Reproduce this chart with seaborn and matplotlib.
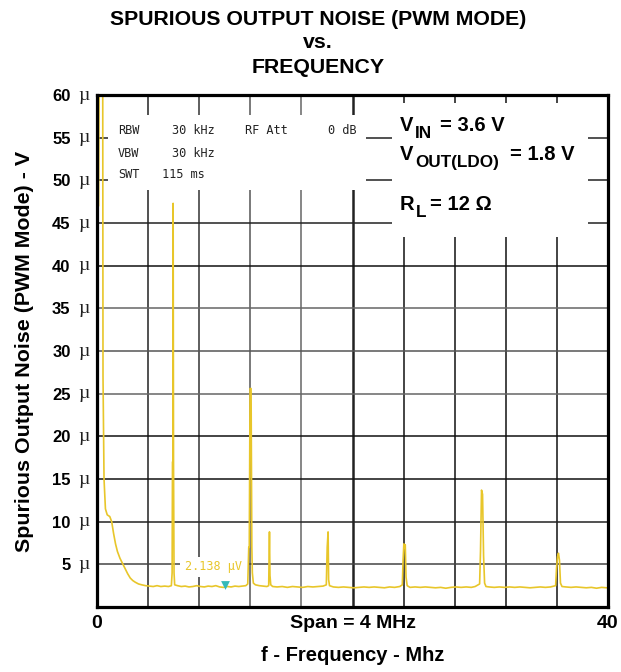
import matplotlib
matplotlib.use("Agg")
import matplotlib.pyplot as plt
import seaborn as sns
import pandas as pd
from matplotlib.patches import Rectangle

# ---------------- data ----------------
freq_mhz = [0.12, 0.20, 0.44, 0.47, 0.55, 0.66, 0.80, 1.00, 1.15, 1.30, 1.45, 1.60, 1.80, 2.00,
            2.20, 2.40, 2.60, 2.80, 3.00, 3.25, 3.50, 3.80, 4.10, 4.40, 4.70, 5.00, 5.30, 5.60,
            5.82, 5.88, 5.91, 5.94, 5.96, 5.99, 6.03, 6.08, 6.30, 6.60, 6.90, 7.20, 7.50, 7.80,
            8.10, 8.40, 8.70, 9.00, 9.30, 9.60, 9.90, 10.20, 10.50, 10.80, 11.10, 11.40, 11.65,
            11.80, 11.88, 11.92, 11.98, 12.06, 12.12, 12.16, 12.24, 12.40, 12.70, 13.00, 13.30,
            13.44, 13.50, 13.54, 13.60, 13.75, 14.10, 14.50, 14.90, 15.30, 15.70, 16.10, 16.50,
            16.90, 17.30, 17.70, 17.95, 18.02, 18.09, 18.13, 18.20, 18.50, 18.90, 19.30, 19.70,
            20.10, 20.50, 20.90, 21.30, 21.70, 22.10, 22.50, 22.90, 23.30, 23.70, 23.90, 23.96,
            24.02, 24.08, 24.13, 24.19, 24.28, 24.50, 24.90, 25.30, 25.70, 26.10, 26.50, 26.90,
            27.30, 27.70, 28.10, 28.50, 28.90, 29.30, 29.60, 29.95, 30.02, 30.10, 30.18, 30.26,
            30.34, 30.45, 30.70, 31.10, 31.50, 31.90, 32.30, 32.70, 33.10, 33.50, 33.90, 34.30,
            34.70, 35.10, 35.50, 35.90, 35.97, 36.05, 36.12, 36.20, 36.28, 36.40, 36.70, 37.10,
            37.50, 37.90, 38.30, 38.70, 39.10, 39.50, 39.90]
noise_uv = [47.0, 75.0, 75.0, 27.0, 15.0, 11.5, 10.8, 10.6, 10.0, 8.6, 7.4, 6.5, 5.7, 5.1,
            4.5, 3.9, 3.4, 3.1, 2.9, 2.7, 2.6, 2.5, 2.45, 2.4, 2.5, 2.4, 2.45, 2.4,
            2.5, 4.0, 17.0, 17.0, 47.3, 17.0, 4.0, 2.6, 2.5, 2.4, 2.45, 2.35, 2.4, 2.5,
            2.4, 2.35, 2.45, 2.4, 2.5, 2.35, 2.3, 2.4, 2.35, 2.45, 2.4, 2.45, 2.5,
            2.7, 7.0, 7.0, 25.6, 25.6, 7.0, 4.0, 2.8, 2.6, 2.5, 2.45, 2.4,
            2.5, 8.8, 3.7, 2.6, 2.4, 2.35, 2.4, 2.3, 2.4, 2.35, 2.3, 2.4,
            2.35, 2.4, 2.45, 2.6, 7.0, 8.8, 3.2, 2.5, 2.35, 2.3, 2.35, 2.3,
            2.25, 2.3, 2.35, 2.3, 2.35, 2.3, 2.25, 2.35, 2.3, 2.4, 2.6, 5.5,
            7.4, 6.9, 7.3, 3.5, 2.5, 2.3, 2.35, 2.3, 2.35, 2.3, 2.25, 2.3,
            2.2, 2.3, 2.35, 2.3, 2.35, 2.3, 2.4, 2.7, 6.5, 13.7, 13.2, 6.0,
            2.8, 2.4, 2.35, 2.3, 2.35, 2.3, 2.35, 2.3, 2.35, 2.3, 2.25, 2.3,
            2.35, 2.3, 2.35, 2.5, 4.5, 5.9, 6.3, 5.5, 2.8, 2.4, 2.35, 2.3,
            2.35, 2.3, 2.25, 2.3, 2.2, 2.3, 2.25]

y_ticks = [5, 10, 15, 20, 25, 30, 35, 40, 45, 50, 55, 60]
y_tick_labels = ["5", "10", "15", "20", "25", "30", "35", "40", "45", "50", "55", "60"]
x_ticks = [0, 20, 40]
x_tick_labels = ["0", "Span = 4 MHz", "40"]
grid_x = [4, 8, 12, 16, 20, 24, 28, 32, 36]
grid_y = [5, 10, 15, 20, 25, 30, 35, 40, 45, 50, 55]
marker_freq = [10.02]
marker_level = [2.6]
marker_text = "2.138 \u00b5V"
title_lines = ["SPURIOUS OUTPUT NOISE (PWM MODE)", "vs.", "FREQUENCY"]
analyzer_lines = [("RBW", "30 kHz", "RF Att", "0 dB"),
                  ("VBW", "30 kHz", "", ""),
                  ("SWT", "115 ms", "", "")]
cond_main = ["V", "V", "R"]
cond_sub = ["IN", "OUT(LDO)", "L"]
cond_rest = ["= 3.6 V", "= 1.8 V", "= 12 \u03a9"]

# ---------------- style ----------------
sns.set_style("white")
plt.rcParams["font.family"] = ["Liberation Sans", "DejaVu Sans"]
for k in ["text.color", "axes.labelcolor", "xtick.color", "ytick.color"]:
    plt.rcParams[k] = "black"

TRACE = "#e8c62a"
W, H = 621, 672

fig = plt.figure(figsize=(6.21, 6.72), dpi=100)
ax = fig.add_axes([97 / W, 1 - 607 / H, 511 / W, 512 / H])

# grid
gx_col = ["#222222", "#333333", "#555555", "#666666", "#222222", "#111111", "#111111", "#111111", "#111111"]
gx_lw = [1.1, 1.1, 1.1, 1.1, 1.8, 1.1, 1.1, 1.1, 1.1]
for xv, c, lw in zip(grid_x, gx_col, gx_lw):
    ax.axvline(xv, color=c, lw=lw, zorder=1)
gy_col = ["#444444", "#222222", "#111111", "#111111", "#666666", "#555555", "#666666", "#111111", "#222222", "#222222", "#222222"]
for yv, c in zip(grid_y, gy_col):
    ax.axhline(yv, color=c, lw=1.1, zorder=1)

# white annotation boxes
ax.add_patch(Rectangle((0.0215, 0.8145), 0.505, 0.147, transform=ax.transAxes,
                       facecolor="white", edgecolor="none", zorder=2))
ax.add_patch(Rectangle((0.577, 0.7227), 0.384, 0.262, transform=ax.transAxes,
                       facecolor="white", edgecolor="none", zorder=2))

# trace
df = pd.DataFrame({"freq": freq_mhz, "noise": noise_uv})
sns.lineplot(data=df, x="freq", y="noise", ax=ax, color=TRACE, lw=1.2,
             estimator=None, sort=False, zorder=5)

# marker
ax.add_patch(Rectangle((6.5, 3.5), 5.3, 2.4, facecolor="white", edgecolor="none", zorder=3))
ax.text(6.89, 4.75, marker_text, color=TRACE, fontsize=8.5, family="DejaVu Sans Mono",
        va="center", ha="left", zorder=4)
ax.scatter(marker_freq, marker_level, marker="v", s=40, color="#35b9b9", zorder=6, linewidths=0)

ax.set_xlim(0, 40)
ax.set_ylim(0, 60)

# analyzer settings text
rows_y = [0.9316, 0.8867, 0.8438]
col_x = [0.0411, None, 0.2896, 0.452]
val_x = [0.1468, 0.1468, 0.1272]
for (a, b, c, d), yy, vx in zip(analyzer_lines, rows_y, val_x):
    kw = dict(transform=ax.transAxes, fontsize=8.6, family="DejaVu Sans Mono",
              color="#222222", va="center", ha="left", zorder=4)
    ax.text(col_x[0], yy, a, **kw)
    ax.text(vx, yy, b, **kw)
    if c:
        ax.text(col_x[2], yy, c, **kw)
    if d:
        ax.text(col_x[3], yy, d, **kw)

# conditions text (main letter, subscript, remainder) placed in pixel positions
base_y = [131, 160, 210]
sub_x = [415, 415, 416]
rest_x = [440, 510, 430]
for m, s, r, by, sx, rx in zip(cond_main, cond_sub, cond_rest, base_y, sub_x, rest_x):
    fig.text(400 / W, 1 - by / H, m, fontsize=14.5, fontweight="bold", va="baseline", ha="left")
    fig.text(sx / W, 1 - (by + 7) / H, s, fontsize=12.3, fontweight="bold", va="baseline", ha="left")
    fig.text(rx / W, 1 - by / H, r, fontsize=14.5, fontweight="bold", va="baseline", ha="left")

# axes ticks and labels
ax.set_yticks(y_ticks)
ax.set_yticklabels(y_tick_labels, fontsize=12, fontweight="bold")
ax.tick_params(axis="y", direction="out", length=4, width=1.2, pad=15, color="#333333")
for yv in y_ticks:
    ax.text(-0.0245, yv, "\u00b5", transform=ax.get_yaxis_transform(), fontsize=14,
            family="Liberation Serif", ha="center", va="center", color="#222222", clip_on=False)

ax.set_xticks(x_ticks)
ax.set_xticklabels(x_tick_labels, fontsize=14, fontweight="bold")
ax.tick_params(axis="x", length=0, pad=6)

ax.set_xlabel("f - Frequency - Mhz", fontsize=14.5, fontweight="bold")
ax.xaxis.set_label_coords(0.5, -0.076)
ax.set_ylabel("Spurious Output Noise (PWM Mode) - V", fontsize=15.4, fontweight="bold", va="center")
ax.yaxis.set_label_coords(-0.141, 0.5)

for s in ax.spines.values():
    s.set_visible(True)
    s.set_color("black")
    s.set_linewidth(2.3)
    s.set_zorder(7)

for line, base in zip(title_lines, [25, 48, 73]):
    fig.text(318 / W, 1 - base / H, line, ha="center", va="baseline",
             fontsize=15.3, fontweight="bold", color="black")

fig.savefig("out.png", dpi=100, facecolor="white")
